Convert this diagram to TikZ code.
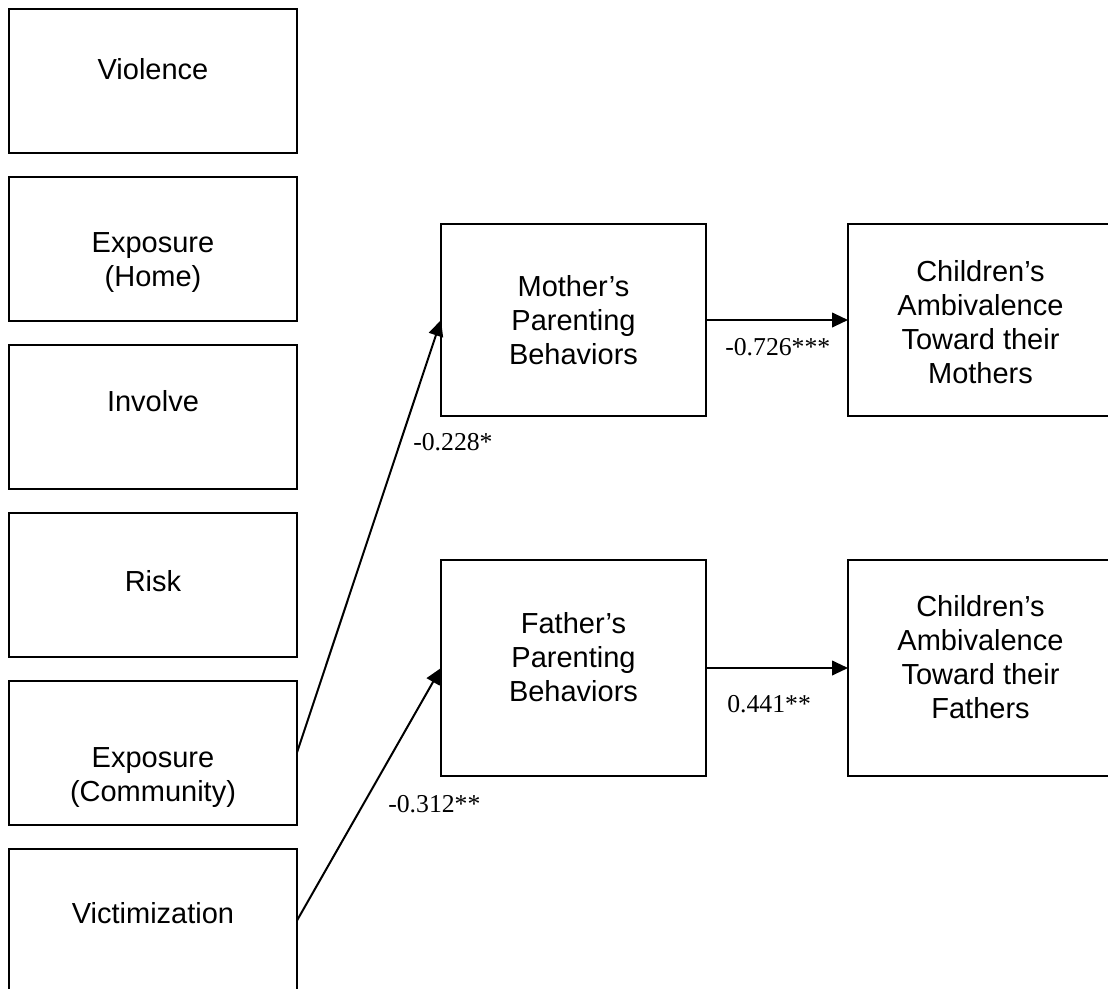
\documentclass[tikz,border=0pt]{standalone}
\usepackage{fontspec}
\setmainfont{Liberation Serif}
\newfontfamily\boxfont{Liberation Sans}
\usetikzlibrary{arrows.meta}

\begin{document}
\begin{tikzpicture}[x=0.75pt,y=-0.75pt,
  box/.style={draw=black, line width=1.5pt, rectangle, inner sep=0pt, outer sep=0pt},
  srcbox/.style={box, minimum width=216pt, minimum height=108pt},
  medbox/.style={box, minimum width=198.75pt},
  boxtext/.style={anchor=north, inner sep=0pt, align=center,
    font=\boxfont\fontsize{21.75}{25.5}\selectfont},
  coef/.style={anchor=base west, inner sep=0pt, font=\fontsize{19.3}{22}\selectfont},
  link/.style={line width=1.5pt, -{Triangle[length=12pt,width=11pt]}}
]
\useasboundingbox (0,0) rectangle (1108,989);
\clip (0,0) rectangle (1108,989);

% predictor boxes
\node[srcbox] (violence) at (153,80.5) {};
\node[srcbox] (exphome)  at (153,248.5) {};
\node[srcbox] (involve)  at (153,416.5) {};
\node[srcbox] (risk)     at (153,584.5) {};
\node[srcbox] (expcomm)  at (153,752.5) {};
\node[srcbox] (victim)   at (153,920.5) {};

\node[boxtext] (t-violence) at (153,58)  {Violence};
\node[boxtext] (t-exphome)  at (153,232) {Exposure\\(Home)};
\node[boxtext] (t-involve)  at (153,390) {Involve};
\node[boxtext] (t-risk)     at (153,570) {Risk};
\node[boxtext] (t-expcomm)  at (153,747) {Exposure\\(Community)};
\node[boxtext] (t-victim)   at (153,902) {Victimization};

% mediators
\node[medbox, minimum height=144pt] (mother) at (573.5,320) {};
\node[medbox, minimum height=162pt] (father) at (573.5,668) {};
\node[boxtext] (t-mother) at (573.5,275) {Mother’s\\Parenting\\Behaviors};
\node[boxtext] (t-father) at (573.5,612) {Father’s\\Parenting\\Behaviors};

% outcomes
\node[medbox, minimum height=144pt] (ambm) at (980.5,320) {};
\node[medbox, minimum height=162pt] (ambf) at (980.5,668) {};
\node[boxtext] (t-ambm) at (980.5,260) {Children’s\\Ambivalence\\Toward their\\Mothers};
\node[boxtext] (t-ambf) at (980.5,595) {Children’s\\Ambivalence\\Toward their\\Fathers};

% paths
\draw[link] (expcomm.east) -- (mother.west);
\draw[link] (victim.east) -- (father.west);
\draw[link] (mother.east) -- (ambm.west);
\draw[link] (father.east) -- (ambf.west);

% coefficients
\node[coef] (c-mom)   at (413,450) {-0.228*};
\node[coef] (c-dad)   at (388,812) {-0.312**};
\node[coef] (c-ambm)  at (725,355) {-0.726***};
\node[coef] (c-ambf)  at (727,712) {0.441**};
\end{tikzpicture}
\end{document}
